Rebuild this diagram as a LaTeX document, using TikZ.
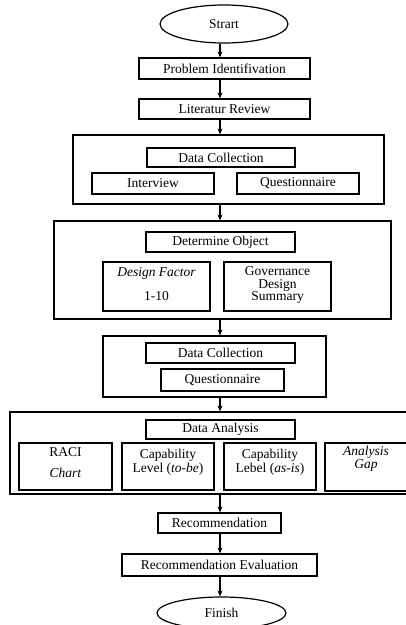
\documentclass[tikz,border=0pt]{standalone}
\usepackage{fontspec}
\setmainfont{Liberation Serif}
\usetikzlibrary{arrows.meta,shapes.geometric}
\begin{document}
\begin{tikzpicture}[x=1pt,y=-1pt,
  bx/.style={draw,line width=1.2pt,inner sep=0pt,font=\fontsize{13.5}{13.5}\selectfont},
  ell/.style={draw,ellipse,line width=1.2pt,inner sep=0pt,font=\fontsize{13.5}{13.5}\selectfont},
  lbl/.style={inner sep=0pt,align=center,font=\fontsize{13.5}{13.5}\selectfont},
  arr/.style={line width=1.1pt,-{Stealth[length=6pt,width=5pt]}}]
\useasboundingbox (0,0) rectangle (406,625);
\coordinate (ax) at (220,0);
% main flow
\node[ell,minimum width=128pt,minimum height=38pt] (start) at (224,24) {Strart};
\node[bx,minimum width=171pt,minimum height=21pt] (p1) at (224.5,68.5) {Problem Identifivation};
\node[bx,minimum width=171pt,minimum height=20pt] (p2) at (224.5,109) {Literatur Review};
% container 1
\node[bx,minimum width=311pt,minimum height=69pt] (c1) at (228.5,169.5) {};
\node[bx,minimum width=148pt,minimum height=19pt] (c1t) at (221,157.5) {Data Collection};
\node[bx,minimum width=122pt,minimum height=21pt] (c1a) at (153,183.5) {Interview};
\node[bx,minimum width=122pt,minimum height=21pt] (c1b) at (298,183.5) {Questionnaire};
% container 2
\node[bx,minimum width=337pt,minimum height=98pt] (c2) at (222.5,270) {};
\node[bx,minimum width=149pt,minimum height=20pt] (c2t) at (220.5,242) {Determine Object};
\node[bx,minimum width=107pt,minimum height=49pt] (c2a) at (156.5,286.5) {};
\node[bx,minimum width=107pt,minimum height=49pt] (c2b) at (277.5,286.5) {};
\node[lbl] (c2al) at (156.5,284.5) {\textit{Design Factor}\\[10.5pt]1-10};
\node[lbl,font=\fontsize{13.5}{12.5}\selectfont] (c2bl) at (277.5,285) {Governance\\Design\\Summary};
% container 3
\node[bx,minimum width=223pt,minimum height=61pt] (c3) at (214.5,366.5) {};
\node[bx,minimum width=149pt,minimum height=20pt] (c3t) at (220.5,353) {Data Collection};
\node[bx,minimum width=123pt,minimum height=22pt] (c3a) at (222.5,380) {Questionnaire};
% container 4
\node[bx,minimum width=402pt,minimum height=82pt] (c4) at (211,453) {};
\node[bx,minimum width=149pt,minimum height=19pt] (c4t) at (220.5,429.5) {Data Analysis};
\node[bx,minimum width=93pt,minimum height=47pt] (c4a) at (65.5,466.5) {};
\node[bx,minimum width=92pt,minimum height=47pt] (c4b) at (168,466.5) {};
\node[bx,minimum width=92pt,minimum height=47pt] (c4c) at (270,466.5) {};
\node[bx,minimum width=87pt,minimum height=48pt] (c4d) at (368.5,467) {};
\node[lbl] (c4al) at (65.5,463) {RACI\\[7.5pt]\textit{Chart}};
\node[lbl] (c4bl) at (168,462) {Capability\\Level (\textit{to-be})};
\node[lbl] (c4cl) at (270,462) {Capability\\Lebel (\textit{as-is})};
\node[lbl,font=\fontsize{13.5}{11.5}\selectfont] (c4dl) at (366,459) {\textit{Analysis}\\\textit{Gap}};
% tail
\node[bx,minimum width=123pt,minimum height=20pt] (p3) at (219.5,523) {Recommendation};
\node[bx,minimum width=195pt,minimum height=22pt] (p4) at (219.5,565) {Recommendation Evaluation};
\node[ell,minimum width=129pt,minimum height=32pt] (finish) at (221.5,613) {Finish};
% arrows
\draw[arr] (start.south -| ax) -- (p1.north -| ax);
\draw[arr] (p1.south -| ax) -- (p2.north -| ax);
\draw[arr] (p2.south -| ax) -- (c1.north -| ax);
\draw[arr] (c1.south -| ax) -- (c2.north -| ax);
\draw[arr] (c2.south -| ax) -- (c3.north -| ax);
\draw[arr] (c3.south -| ax) -- (c4.north -| ax);
\draw[arr] (c4.south -| ax) -- (p3.north -| ax);
\draw[arr] (p3.south -| ax) -- (p4.north -| ax);
\draw[arr] (p4.south -| ax) -- (finish.north -| ax);
\end{tikzpicture}
\end{document}
